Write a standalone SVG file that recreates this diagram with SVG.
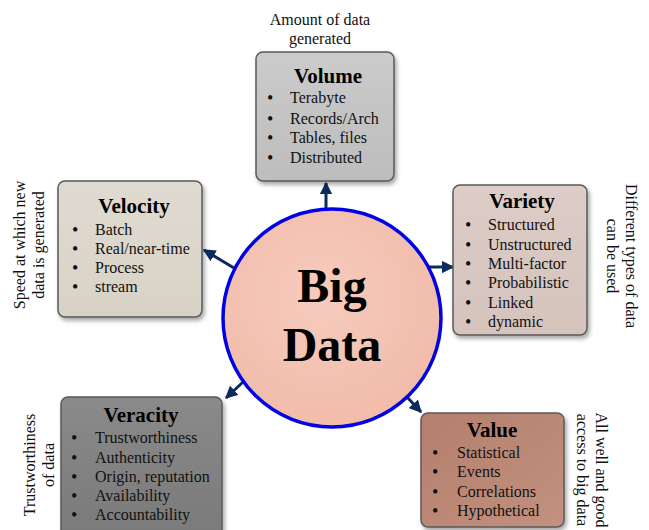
<svg xmlns="http://www.w3.org/2000/svg" width="649" height="530" viewBox="0 0 649 530">
<defs>
<style>
.ttl{font-family:'Liberation Serif',serif;font-size:21px;font-weight:bold;text-anchor:middle;fill:#000;}
.itm{font-family:'Liberation Serif',serif;font-size:16px;fill:#111;}
.bul{font-family:'Liberation Serif',serif;font-size:18px;fill:#111;}
.side{font-family:'Liberation Serif',serif;font-size:16px;text-anchor:middle;fill:#111;}
.bigtxt{font-family:'Liberation Serif',serif;font-size:48px;font-weight:bold;text-anchor:middle;fill:#000;}
.box{stroke:#5a5a5a;stroke-width:1.5;filter:url(#sh);}
.conn{stroke:#0b2a5e;stroke-width:3;fill:none;marker-end:url(#ah);}
</style>
<filter id="sh" x="-10%" y="-10%" width="130%" height="130%">
<feDropShadow dx="2" dy="3" stdDeviation="2" flood-color="#000" flood-opacity="0.35"/>
</filter>
<marker id="ah" viewBox="0 0 10 10" refX="9" refY="5" markerWidth="4.2" markerHeight="4.2" orient="auto" markerUnits="strokeWidth">
<path d="M0,0 L10,5 L0,10 z" fill="#0b2a5e"/>
</marker>
<linearGradient id="gVol" x1="0" y1="0" x2="0" y2="1"><stop offset="0" stop-color="#cbcbcb"/><stop offset="1" stop-color="#bdbdbd"/></linearGradient>
<linearGradient id="gVar" x1="0" y1="0" x2="0" y2="1"><stop offset="0" stop-color="#ddcdc7"/><stop offset="1" stop-color="#d5c3bc"/></linearGradient>
<linearGradient id="gVel" x1="0" y1="0" x2="0" y2="1"><stop offset="0" stop-color="#e0dbd1"/><stop offset="1" stop-color="#d8d2c6"/></linearGradient>
<linearGradient id="gVer" x1="0" y1="0" x2="0" y2="1"><stop offset="0" stop-color="#8a8a8a"/><stop offset="1" stop-color="#7a7a7a"/></linearGradient>
<linearGradient id="gVal" x1="0" y1="0" x2="1" y2="1"><stop offset="0" stop-color="#b47f6d"/><stop offset="1" stop-color="#c3917f"/></linearGradient>
<radialGradient id="gC" cx="0.45" cy="0.4" r="0.6"><stop offset="0" stop-color="#f6cbbd"/><stop offset="1" stop-color="#f2bcaa"/></radialGradient>
</defs>

<g id="connectors">
<line class="conn" x1="326" y1="209" x2="326" y2="183"/>
<line class="conn" x1="234" y1="268" x2="204" y2="250"/>
<line class="conn" x1="428" y1="267" x2="453" y2="267"/>
<line class="conn" x1="243" y1="382" x2="226" y2="398"/>
<line class="conn" x1="407" y1="397" x2="421" y2="412"/>
</g>

<g id="bigdata">
<circle cx="332" cy="318" r="109" fill="url(#gC)" stroke="#0000e6" stroke-width="3.5"/>
<text class="bigtxt" font-family="Liberation Serif" x="332" y="302">Big</text>
<text class="bigtxt" font-family="Liberation Serif" x="332" y="361">Data</text>
</g>

<g id="volume">
<rect class="box" x="256" y="52" width="138" height="129" rx="7" fill="url(#gVol)"/>
<text class="ttl" font-family="Liberation Serif" x="328" y="83">Volume</text>
<text class="bul" font-family="Liberation Serif" x="267" y="104">•</text><text class="itm" font-family="Liberation Serif" x="290" y="103">Terabyte</text>
<text class="bul" font-family="Liberation Serif" x="267" y="125">•</text><text class="itm" font-family="Liberation Serif" x="290" y="124">Records/Arch</text>
<text class="bul" font-family="Liberation Serif" x="267" y="144">•</text><text class="itm" font-family="Liberation Serif" x="290" y="143">Tables, files</text>
<text class="bul" font-family="Liberation Serif" x="267" y="164">•</text><text class="itm" font-family="Liberation Serif" x="290" y="163">Distributed</text>
<text class="side" font-family="Liberation Serif" x="320" y="25">Amount of data</text>
<text class="side" font-family="Liberation Serif" x="320" y="44">generated</text>
</g>

<g id="variety">
<rect class="box" x="453" y="185" width="134" height="150" rx="7" fill="url(#gVar)"/>
<text class="ttl" font-family="Liberation Serif" x="522" y="208">Variety</text>
<text class="bul" font-family="Liberation Serif" x="465" y="231">•</text><text class="itm" font-family="Liberation Serif" x="488" y="230">Structured</text>
<text class="bul" font-family="Liberation Serif" x="465" y="251">•</text><text class="itm" font-family="Liberation Serif" x="488" y="250">Unstructured</text>
<text class="bul" font-family="Liberation Serif" x="465" y="270">•</text><text class="itm" font-family="Liberation Serif" x="488" y="269">Multi-factor</text>
<text class="bul" font-family="Liberation Serif" x="465" y="289">•</text><text class="itm" font-family="Liberation Serif" x="488" y="288">Probabilistic</text>
<text class="bul" font-family="Liberation Serif" x="465" y="309">•</text><text class="itm" font-family="Liberation Serif" x="488" y="308">Linked</text>
<text class="bul" font-family="Liberation Serif" x="465" y="328">•</text><text class="itm" font-family="Liberation Serif" x="488" y="327">dynamic</text>
<text class="side" font-family="Liberation Serif" transform="translate(626,256) rotate(90)"><tspan x="0" y="0">Different types of data</tspan><tspan x="0" y="19">can be used</tspan></text>
</g>

<g id="velocity">
<rect class="box" x="58" y="181" width="144" height="136" rx="7" fill="url(#gVel)"/>
<text class="ttl" font-family="Liberation Serif" x="134" y="213">Velocity</text>
<text class="bul" font-family="Liberation Serif" x="72" y="236">•</text><text class="itm" font-family="Liberation Serif" x="95" y="235">Batch</text>
<text class="bul" font-family="Liberation Serif" x="72" y="255">•</text><text class="itm" font-family="Liberation Serif" x="95" y="254">Real/near-time</text>
<text class="bul" font-family="Liberation Serif" x="72" y="274">•</text><text class="itm" font-family="Liberation Serif" x="95" y="273">Process</text>
<text class="bul" font-family="Liberation Serif" x="72" y="293">•</text><text class="itm" font-family="Liberation Serif" x="95" y="292">stream</text>
<text class="side" font-family="Liberation Serif" transform="translate(25,245) rotate(-90)"><tspan x="0" y="0">Speed at which new</tspan><tspan x="0" y="19">data is generated</tspan></text>
</g>

<g id="veracity">
<rect class="box" x="61" y="397" width="161" height="140" rx="7" fill="url(#gVer)"/>
<text class="ttl" font-family="Liberation Serif" x="141" y="422">Veracity</text>
<text class="bul" font-family="Liberation Serif" x="71" y="444">•</text><text class="itm" font-family="Liberation Serif" x="95" y="443">Trustworthiness</text>
<text class="bul" font-family="Liberation Serif" x="71" y="464">•</text><text class="itm" font-family="Liberation Serif" x="95" y="463">Authenticity</text>
<text class="bul" font-family="Liberation Serif" x="71" y="483">•</text><text class="itm" font-family="Liberation Serif" x="95" y="482">Origin, reputation</text>
<text class="bul" font-family="Liberation Serif" x="71" y="502">•</text><text class="itm" font-family="Liberation Serif" x="95" y="501">Availability</text>
<text class="bul" font-family="Liberation Serif" x="71" y="521">•</text><text class="itm" font-family="Liberation Serif" x="95" y="520">Accountability</text>
<text class="side" font-family="Liberation Serif" transform="translate(35,465) rotate(-90)"><tspan x="0" y="0">Trustworthiness</tspan><tspan x="0" y="19">of data</tspan></text>
</g>

<g id="value">
<rect class="box" x="421" y="413" width="143" height="114" rx="7" fill="url(#gVal)"/>
<text class="ttl" font-family="Liberation Serif" x="492" y="437">Value</text>
<text class="bul" font-family="Liberation Serif" x="432" y="459">•</text><text class="itm" font-family="Liberation Serif" x="457" y="458">Statistical</text>
<text class="bul" font-family="Liberation Serif" x="432" y="478">•</text><text class="itm" font-family="Liberation Serif" x="457" y="477">Events</text>
<text class="bul" font-family="Liberation Serif" x="432" y="498">•</text><text class="itm" font-family="Liberation Serif" x="457" y="497">Correlations</text>
<text class="bul" font-family="Liberation Serif" x="432" y="517">•</text><text class="itm" font-family="Liberation Serif" x="457" y="516">Hypothetical</text>
<text class="side" font-family="Liberation Serif" transform="translate(596,470) rotate(90)"><tspan x="0" y="0">All well and good</tspan><tspan x="0" y="19">access to big data</tspan></text>
</g>
</svg>
